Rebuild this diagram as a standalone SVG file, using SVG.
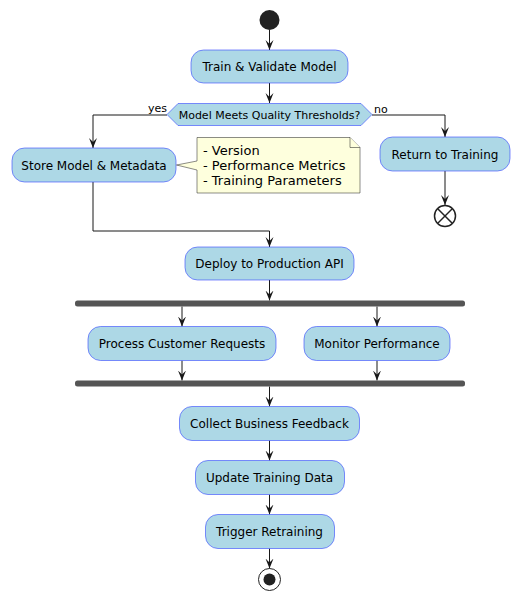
<svg xmlns="http://www.w3.org/2000/svg" width="520" height="600" viewBox="0 0 520 600">
<defs>
<style>
.box{fill:#ADD8E6;stroke:#3344FF;stroke-width:0.6}
.t{font-family:"DejaVu Sans",sans-serif;font-size:12px;fill:#000;text-anchor:middle}
.s{font-family:"DejaVu Sans",sans-serif;font-size:11px;fill:#000}
.n{font-family:"DejaVu Sans",sans-serif;font-size:13px;fill:#000}
.ln{fill:none;stroke:#181818;stroke-width:1}
.bar{fill:#555555}
</style>
<marker id="ah" viewBox="0 0 10 10" refX="10" refY="5" markerWidth="10" markerHeight="10" markerUnits="userSpaceOnUse" orient="auto">
<path d="M0,1 L10,5 L0,9 L4,5 Z" fill="#181818"/>
</marker>
</defs>
<g id="connectors">
<line class="ln" x1="269.5" y1="30" x2="269.5" y2="50" marker-end="url(#ah)"/>
<line class="ln" x1="269.5" y1="83" x2="269.5" y2="103" marker-end="url(#ah)"/>
<polyline class="ln" points="167,115 93,115 93,148" marker-end="url(#ah)"/>
<polyline class="ln" points="372,115 445,115 445,137" marker-end="url(#ah)"/>
<line class="ln" x1="445" y1="171" x2="445" y2="205" marker-end="url(#ah)"/>
<polyline class="ln" points="93,182 93,231 269.5,231 269.5,247" marker-end="url(#ah)"/>
<line class="ln" x1="269.5" y1="280" x2="269.5" y2="300.5" marker-end="url(#ah)"/>
<line class="ln" x1="182" y1="306.5" x2="182" y2="326.5" marker-end="url(#ah)"/>
<line class="ln" x1="377" y1="306.5" x2="377" y2="326.5" marker-end="url(#ah)"/>
<line class="ln" x1="182" y1="360.5" x2="182" y2="380.5" marker-end="url(#ah)"/>
<line class="ln" x1="377" y1="360.5" x2="377" y2="380.5" marker-end="url(#ah)"/>
<line class="ln" x1="269.5" y1="386.5" x2="269.5" y2="406.5" marker-end="url(#ah)"/>
<line class="ln" x1="269.5" y1="440.5" x2="269.5" y2="460.5" marker-end="url(#ah)"/>
<line class="ln" x1="269.5" y1="494.5" x2="269.5" y2="514.5" marker-end="url(#ah)"/>
<line class="ln" x1="269.5" y1="548.5" x2="269.5" y2="568.5" marker-end="url(#ah)"/>
<text class="s" x="148" y="112">yes</text>
<text class="s" x="374" y="113">no</text>
</g>
<g id="start"><circle cx="269.5" cy="20" r="10" fill="#222222"/></g>
<g id="train">
<rect class="box" x="191" y="50" width="157" height="33" rx="12.5"/>
<text class="t" x="269.5" y="71">Train &amp; Validate Model</text>
</g>
<g id="decision">
<polygon class="box" points="167,114.5 178,103.5 361,103.5 372,114.5 361,125.5 178,125.5"/>
<text class="s" x="269.5" y="118.5" text-anchor="middle">Model Meets Quality Thresholds?</text>
</g>
<g id="store">
<rect class="box" x="12" y="148" width="164" height="34" rx="12.5"/>
<text class="t" x="94" y="169.5">Store Model &amp; Metadata</text>
</g>
<g id="note">
<path d="M197,137.5 L350,137.5 L360,147.5 L360,193 L197,193 L197,170 L176.5,165 L197,161 Z" fill="#FEFFDD" stroke="#181818" stroke-width="0.5"/>
<path d="M350,137.5 L350,147.5 L360,147.5" fill="#FEFFDD" stroke="#181818" stroke-width="0.5"/>
<text class="n" x="203" y="155">- Version</text>
<text class="n" x="203" y="170">- Performance Metrics</text>
<text class="n" x="203" y="185">- Training Parameters</text>
</g>
<g id="return">
<rect class="box" x="380" y="137" width="130" height="34" rx="12.5"/>
<text class="t" x="445" y="158.5">Return to Training</text>
</g>
<g id="stop">
<circle cx="445" cy="216" r="10.5" fill="none" stroke="#222222" stroke-width="1.5"/>
<line x1="437.5" y1="208.5" x2="452.5" y2="223.5" stroke="#222222" stroke-width="1.5"/>
<line x1="452.5" y1="208.5" x2="437.5" y2="223.5" stroke="#222222" stroke-width="1.5"/>
</g>
<g id="deploy">
<rect class="box" x="185" y="247" width="169" height="33" rx="12.5"/>
<text class="t" x="269.5" y="268">Deploy to Production API</text>
</g>
<g id="fork"><rect class="bar" x="75" y="300.5" width="390" height="6" rx="2.5"/></g>
<g id="process">
<rect class="box" x="88" y="326.5" width="188" height="34" rx="12.5"/>
<text class="t" x="182" y="348">Process Customer Requests</text>
</g>
<g id="monitor">
<rect class="box" x="304" y="326.5" width="146" height="34" rx="12.5"/>
<text class="t" x="377" y="348">Monitor Performance</text>
</g>
<g id="join"><rect class="bar" x="75" y="380.5" width="390" height="6" rx="2.5"/></g>
<g id="collect">
<rect class="box" x="179.5" y="406.5" width="180" height="34" rx="12.5"/>
<text class="t" x="269.5" y="428">Collect Business Feedback</text>
</g>
<g id="update">
<rect class="box" x="195.5" y="460.5" width="149" height="34" rx="12.5"/>
<text class="t" x="269.5" y="482">Update Training Data</text>
</g>
<g id="trigger">
<rect class="box" x="205.5" y="514.5" width="129" height="34" rx="12.5"/>
<text class="t" x="269.5" y="536">Trigger Retraining</text>
</g>
<g id="end">
<circle cx="269.5" cy="579.5" r="11" fill="none" stroke="#222222" stroke-width="1"/>
<circle cx="269.5" cy="579.5" r="6" fill="#222222"/>
</g>
</svg>
